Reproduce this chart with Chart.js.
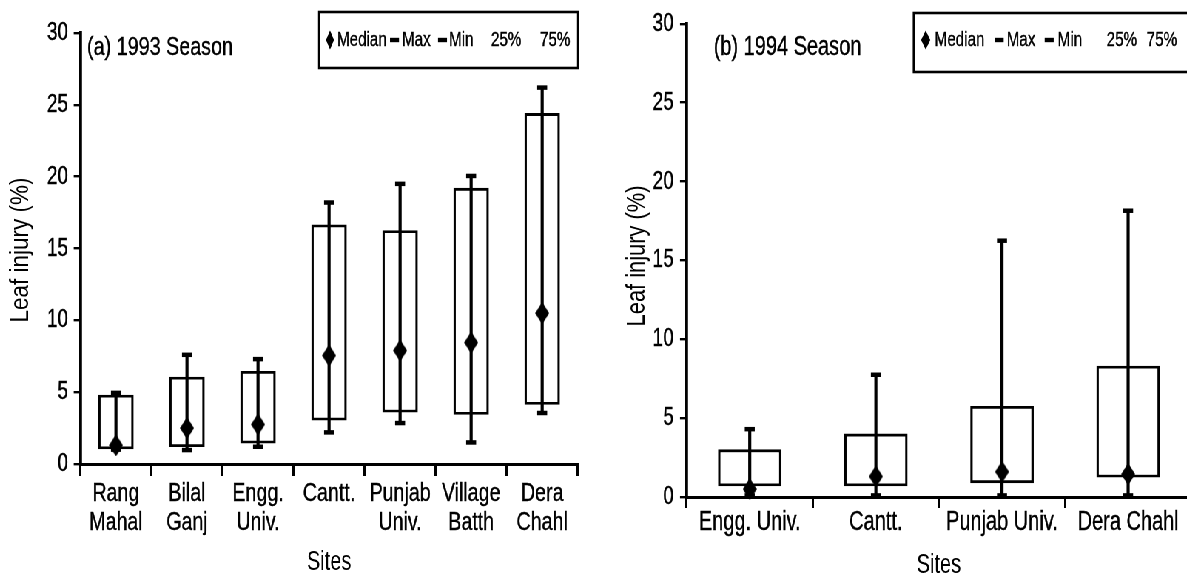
<!DOCTYPE html>
<html>
<head>
<meta charset="utf-8">
<script src="https://cdn.jsdelivr.net/npm/chart.js@4.4.1/dist/chart.umd.min.js"></script>
<style>
  html, body { margin: 0; padding: 0; background: #fff; overflow: hidden; width: 1187px; height: 576px; }
  /* the figure uses a narrow typeface, so the whole stage is squeezed horizontally */
  #stage { position: absolute; left: 0; top: 0; height: 576px; transform-origin: 0 0; }
  #stage canvas { position: absolute; top: 0; }
</style>
</head>
<body>
<div id="stage">
  <canvas id="c93" height="576"></canvas>
  <canvas id="c94" height="576"></canvas>
</div>
<script>
// (a) 1993 season
const sites93 = [['Rang', 'Mahal'], ['Bilal', 'Ganj'], ['Engg.', 'Univ.'], 'Cantt.', ['Punjab', 'Univ.'], ['Village', 'Batth'], ['Dera', 'Chahl']];
const min93 = [1.0, 0.97, 1.2, 2.2, 2.85, 1.5, 3.55];
const q25_93 = [1.05, 1.2, 1.45, 3.05, 3.6, 3.45, 4.15];
const median93 = [1.3, 2.5, 2.75, 7.55, 7.9, 8.45, 10.5];
const q75_93 = [4.8, 6.05, 6.45, 16.65, 16.25, 19.2, 24.4];
const max93 = [4.95, 7.6, 7.3, 18.2, 19.5, 20.05, 26.2];

// (b) 1994 season
const sites94 = ['Engg. Univ.', 'Cantt.', 'Punjab Univ.', 'Dera Chahl'];
const min94 = [0.1, 0.1, 0.1, 0.1];
const q25_94 = [0.7, 0.7, 0.9, 1.25];
const median94 = [0.5, 1.3, 1.6, 1.45];
const q75_94 = [3.0, 4.0, 5.75, 8.3];
const max94 = [4.3, 7.75, 16.25, 18.15];

const yTicks = [0, 5, 10, 15, 20, 25, 30];

const SX = 0.74;               // horizontal squeeze of the stage
const u = px => px / SX;       // final screen px -> unsqueezed canvas px

const stage = document.getElementById('stage');
stage.style.width = u(1200) + 'px';
stage.style.transform = 'scaleX(' + SX + ')';
const c93 = document.getElementById('c93');
const c94 = document.getElementById('c94');
c93.width = Math.round(u(596)); c93.style.left = '0px';
c94.width = Math.round(u(604)); c94.style.left = u(596) + 'px';

const FONT = "'Liberation Sans', Arial, sans-serif";
Chart.defaults.font.family = FONT;
Chart.defaults.color = '#000';

function diamondImage(w, h) {
  const c = document.createElement('canvas');
  c.width = Math.ceil(w); c.height = Math.ceil(h);
  const g = c.getContext('2d');
  g.fillStyle = '#000';
  g.beginPath();
  g.moveTo(c.width / 2, 0);
  g.lineTo(c.width, c.height / 2);
  g.lineTo(c.width / 2, c.height);
  g.lineTo(0, c.height / 2);
  g.closePath();
  g.fill();
  return c;
}

// season label, rotated y title and boxed legend drawn inside the plot
const panelText = {
  id: 'panelText',
  afterDraw(chart, args, o) {
    const ctx = chart.ctx;
    ctx.save();
    ctx.fillStyle = '#000';
    ctx.strokeStyle = '#000';
    ctx.textBaseline = 'middle';
    ctx.textAlign = 'left';
    ctx.font = o.seasonSize + 'px ' + FONT;
    ctx.lineWidth = 0.4;
    ctx.fillText(o.season, u(o.seasonX), o.seasonY);
    ctx.strokeText(o.season, u(o.seasonX), o.seasonY);

    // y title: undo the squeeze across the glyphs, narrow it along the text
    ctx.save();
    ctx.translate(u(o.yTitle.x), o.yTitle.y);
    ctx.scale(1 / SX, o.yTitle.squeeze);
    ctx.rotate(-Math.PI / 2);
    ctx.textAlign = 'center';
    ctx.font = o.yTitle.size + 'px ' + FONT;
    ctx.fillText('Leaf injury (%)', 0, 0);
    ctx.restore();

    const b = o.box;
    ctx.lineWidth = 2.6;
    ctx.strokeRect(u(b.x), b.y, u(b.w), b.h);
    ctx.font = o.legendSize + 'px ' + FONT;
    ctx.lineWidth = 0.4;
    const cy = o.textY;
    o.items.forEach(it => {
      const x = u(b.x + it.dx);
      if (it.kind === 'diamond') {
        const hw = u(o.diamondHalf);
        ctx.beginPath();
        ctx.moveTo(x, cy - 9.5);
        ctx.lineTo(x + hw, cy);
        ctx.lineTo(x, cy + 9.5);
        ctx.lineTo(x - hw, cy);
        ctx.closePath();
        ctx.fill();
      } else if (it.kind === 'dash') {
        ctx.fillRect(x, cy - 2.2, u(9), 4.4);
      } else {
        ctx.fillText(it.text, x, cy);
        ctx.strokeText(it.text, x, cy);
      }
    });
    ctx.restore();
  }
};

function boxChart(canvas, p) {
  const box = p.q25.map((v, i) => [v, p.q75[i]]);
  const whisker = p.min.map((v, i) => [v, p.max[i]]);
  const capStyle = {
    type: 'line', showLine: false, pointStyle: 'line', pointRadius: u(5), pointHoverRadius: u(5),
    pointBorderColor: '#000', pointBorderWidth: 4.5, borderColor: '#000', clip: false, order: 2
  };
  const diamond = diamondImage(u(p.diamondW), p.diamondH);
  return new Chart(canvas, {
    type: 'bar',
    data: {
      labels: p.sites,
      datasets: [
        { type: 'line', label: 'Median', data: p.median, showLine: false, pointStyle: diamond,
          pointRadius: 10, pointHoverRadius: 10, clip: false, order: 1 },
        Object.assign({ label: 'Max', data: p.max }, capStyle),
        Object.assign({ label: 'Min', data: p.min }, capStyle),
        { label: 'range', data: whisker, backgroundColor: '#000', borderWidth: 0,
          barThickness: u(2.6), grouped: false, order: 3 },
        { label: 'IQR', data: box, backgroundColor: '#fff', borderColor: '#000',
          borderWidth: { left: u(2.4), right: u(2.4), top: 2.8, bottom: 2.8 },
          borderSkipped: false, barThickness: u(p.boxWidth), grouped: false, order: 4 }
      ]
    },
    options: {
      responsive: false,
      animation: false,
      layout: { padding: { left: 0, right: u(p.padRight), top: p.top, bottom: 0 } },
      plugins: { legend: { display: false }, tooltip: { enabled: false }, panelText: p.text },
      scales: {
        x: {
          grid: { drawOnChartArea: false, drawTicks: true, tickLength: p.xTickLen, color: '#000', lineWidth: u(2.2), offset: true },
          border: { color: '#000', width: 3 },
          ticks: { color: '#000', font: { size: p.xFont, lineHeight: 1.1 }, padding: p.xPad, maxRotation: 0, autoSkip: false,
                   textStrokeColor: '#000', textStrokeWidth: 0.4 },
          title: { display: true, text: 'Sites', color: '#000', font: { size: 27, lineHeight: p.sitesLH }, padding: { top: 0, bottom: 0 } },
          afterFit(s) { s.height = 576 - p.bottom; }
        },
        y: {
          min: yTicks[0],
          max: yTicks[yTicks.length - 1],
          afterBuildTicks(s) { s.ticks = yTicks.map(v => ({ value: v })); },
          ticks: { color: '#000', font: { size: 25.5 }, padding: p.yPad, textStrokeColor: '#000', textStrokeWidth: 0.4 },
          grid: { drawOnChartArea: false, tickLength: u(6.7), color: '#000', lineWidth: 2.4 },
          border: { color: '#000', width: u(2.8) },
          afterFit(s) { s.width = u(p.axisX); }
        }
      }
    },
    plugins: [panelText]
  });
}

boxChart(c93, {
  sites: sites93, min: min93, q25: q25_93, median: median93, q75: q75_93, max: max93,
  axisX: 80.4, padRight: 18, top: 33, bottom: 464,
  xTickLen: 12, xPad: 2.7, xFont: 26.5, yPad: u(12.4 - 6.7),
  sitesLH: 0.96, boxWidth: 35, diamondW: 14, diamondH: 22,
  text: {
    season: '(a) 1993 Season', seasonX: 87, seasonY: 48, seasonSize: 26.7,
    yTitle: { x: 21, y: 250, size: 26, squeeze: 0.865 },
    box: { x: 319, y: 12, w: 259, h: 56 }, textY: 40, legendSize: 20.5, diamondHalf: 4,
    items: [
      { kind: 'diamond', dx: 11 }, { text: 'Median', dx: 18 },
      { kind: 'dash', dx: 71 }, { text: 'Max', dx: 83 },
      { kind: 'dash', dx: 119 }, { text: 'Min', dx: 130 },
      { text: '25%', dx: 172 }, { text: '75%', dx: 221 }
    ]
  }
});

boxChart(c94, {
  sites: sites94, min: min94, q25: q25_94, median: median94, q75: q75_94, max: max94,
  axisX: 91, padRight: 5, top: 21, bottom: 497,
  xTickLen: 11, xPad: 0, xFont: 27, yPad: u(13 - 6.7),
  sitesLH: 0.74, boxWidth: 63, diamondW: 14, diamondH: 22,
  text: {
    season: '(b) 1994 Season', seasonX: 118, seasonY: 48, seasonSize: 27,
    yTitle: { x: 41.5, y: 256, size: 26, squeeze: 0.84 },
    box: { x: 318, y: 13, w: 281, h: 59 }, textY: 40, legendSize: 20.5, diamondHalf: 4.6,
    items: [
      { kind: 'diamond', dx: 12 }, { text: 'Median', dx: 21 },
      { kind: 'dash', dx: 81 }, { text: 'Max', dx: 93 },
      { kind: 'dash', dx: 131 }, { text: 'Min', dx: 144 },
      { text: '25%', dx: 193 }, { text: '75%', dx: 233 }
    ]
  }
});
</script>
</body>
</html>
